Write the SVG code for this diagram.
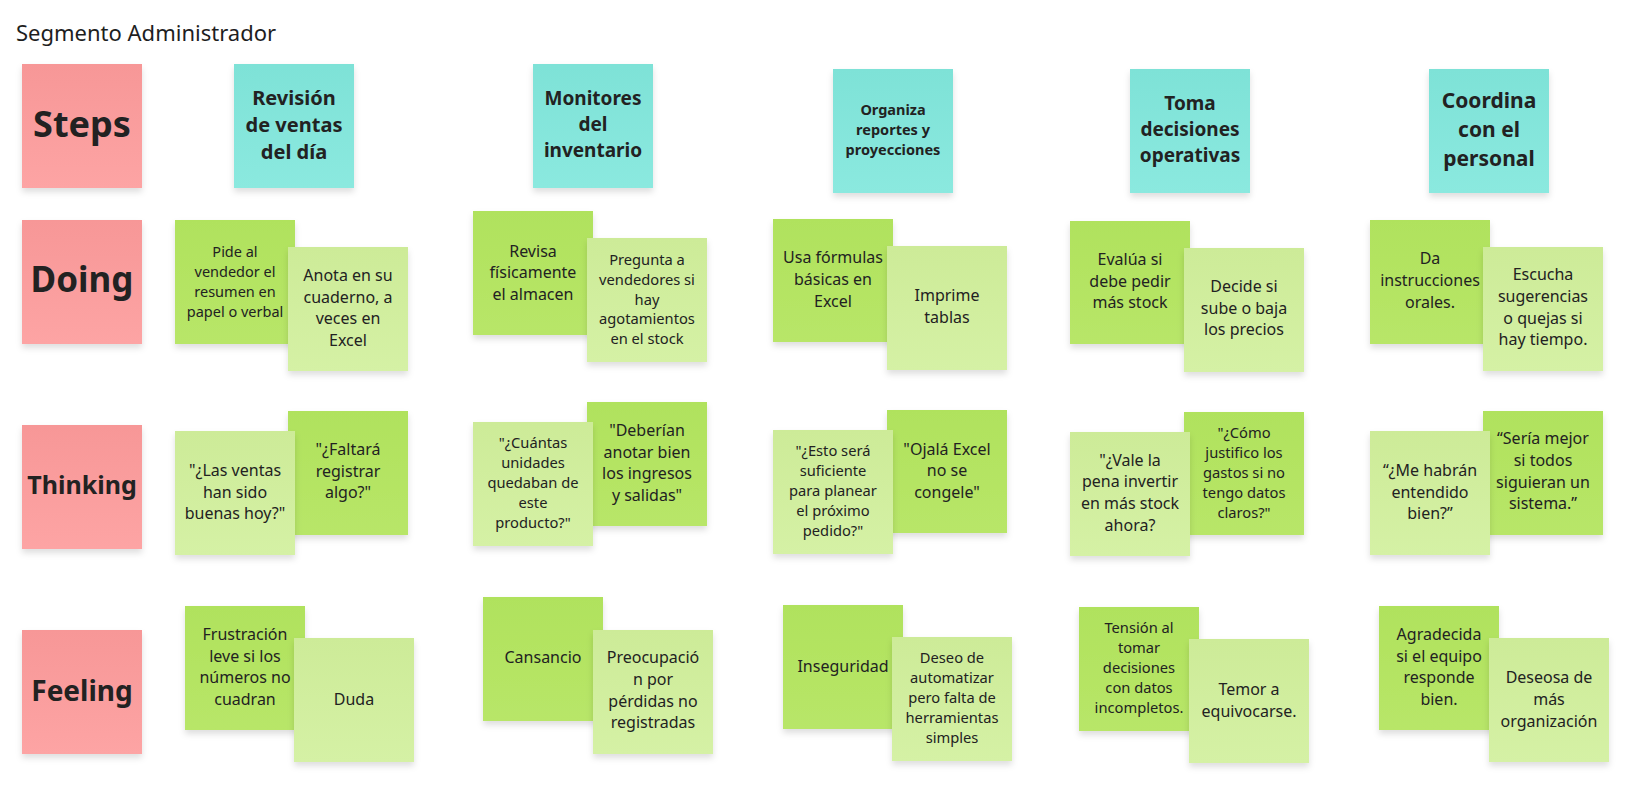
<svg xmlns="http://www.w3.org/2000/svg" width="1630" height="796" viewBox="0 0 1630 796">
<defs>
<linearGradient id="gPink" x1="0" y1="0" x2="0" y2="1"><stop offset="0" stop-color="#f79797"/><stop offset="1" stop-color="#fda4a4"/></linearGradient>
<linearGradient id="gTeal" x1="0" y1="0" x2="0" y2="1"><stop offset="0" stop-color="#7ee2d7"/><stop offset="1" stop-color="#8be9df"/></linearGradient>
<linearGradient id="gDark" x1="0" y1="0" x2="0" y2="1"><stop offset="0" stop-color="#b0e25d"/><stop offset="1" stop-color="#b8e668"/></linearGradient>
<linearGradient id="gLight" x1="0" y1="0" x2="0" y2="1"><stop offset="0" stop-color="#cdeb98"/><stop offset="1" stop-color="#d5f1a5"/></linearGradient>
<filter id="sh" x="-10%" y="-10%" width="120%" height="125%"><feDropShadow dx="0" dy="4" stdDeviation="3" flood-color="#000" flood-opacity="0.13"/></filter>
</defs>
<style>
rect{filter:url(#sh)}
.pink{fill:url(#gPink)}
.teal{fill:url(#gTeal)}
.dk{fill:url(#gDark)}
.lt{fill:url(#gLight)}
text{font-family:"Noto Sans","Open Sans","DejaVu Sans",sans-serif;fill:#222;text-anchor:middle}
.b{font-weight:bold}
.f16{font-size:16px}
.f147{font-size:14.7px}
.title{text-anchor:start;font-size:22px;fill:#1e1e1e}
</style>
<text class="title" x="16" y="41">Segmento Administrador</text>

<g id="row-steps"><rect class="pink" x="22" y="64" width="120" height="124"/><text class="b" x="82" y="137" font-size="36">Steps</text></g>
<g id="row-doing"><rect class="pink" x="22" y="220" width="120" height="124"/><text class="b" x="82" y="292" font-size="35">Doing</text></g>
<g id="row-thinking"><rect class="pink" x="22" y="425" width="120" height="124"/><text class="b" x="82" y="494" font-size="25">Thinking</text></g>
<g id="row-feeling"><rect class="pink" x="22" y="630" width="120" height="124"/><text class="b" x="82" y="701" font-size="28">Feeling</text></g>

<!-- Steps -->
<g id="step1"><rect class="teal" x="234" y="64" width="120" height="124"/>
<text class="b" font-size="20"><tspan x="294" y="105">Revisión</tspan><tspan x="294" y="132.3">de ventas</tspan><tspan x="294" y="159">del día</tspan></text></g>
<g id="step2"><rect class="teal" x="533" y="64" width="120" height="124"/>
<text class="b" font-size="19"><tspan x="593" y="105.3">Monitores</tspan><tspan x="593" y="131">del</tspan><tspan x="593" y="156.7">inventario</tspan></text></g>
<g id="step3"><rect class="teal" x="833" y="69" width="120" height="124"/>
<text class="b" font-size="14.5"><tspan x="893" y="115">Organiza</tspan><tspan x="893" y="135">reportes y</tspan><tspan x="893" y="155">proyecciones</tspan></text></g>
<g id="step4"><rect class="teal" x="1130" y="69" width="120" height="124"/>
<text class="b" font-size="19"><tspan x="1190" y="110">Toma</tspan><tspan x="1190" y="136">decisiones</tspan><tspan x="1190" y="162">operativas</tspan></text></g>
<g id="step5"><rect class="teal" x="1429" y="69" width="120" height="124"/>
<text class="b" font-size="21"><tspan x="1489" y="107.7">Coordina</tspan><tspan x="1489" y="136.7">con el</tspan><tspan x="1489" y="165.7">personal</tspan></text></g>

<!-- Doing -->
<g id="doing1a"><rect class="dk" x="175" y="220" width="120" height="124"/>
<text font-size="14.5"><tspan x="235" y="256.7">Pide al</tspan><tspan x="235" y="276.7">vendedor el</tspan><tspan x="235" y="296.7">resumen en</tspan><tspan x="235" y="316.7">papel o verbal</tspan></text></g>
<g id="doing1b"><rect class="lt" x="288" y="247" width="120" height="124"/>
<text class="f16"><tspan x="348" y="281">Anota en su</tspan><tspan x="348" y="302.7">cuaderno, a</tspan><tspan x="348" y="324.3">veces en</tspan><tspan x="348" y="346">Excel</tspan></text></g>
<g id="doing2a"><rect class="dk" x="473" y="211" width="120" height="124"/>
<text class="f16"><tspan x="533" y="256.5">Revisa</tspan><tspan x="533" y="278">físicamente</tspan><tspan x="533" y="299.5">el almacen</tspan></text></g>
<g id="doing2b"><rect class="lt" x="587" y="238" width="120" height="124"/>
<text class="f147"><tspan x="647" y="265">Pregunta a</tspan><tspan x="647" y="284.8">vendedores si</tspan><tspan x="647" y="304.6">hay</tspan><tspan x="647" y="324.4">agotamientos</tspan><tspan x="647" y="344.2">en el stock</tspan></text></g>
<g id="doing3a"><rect class="dk" x="773" y="219" width="120" height="123"/>
<text class="f16"><tspan x="833" y="263.3">Usa fórmulas</tspan><tspan x="833" y="285">básicas en</tspan><tspan x="833" y="306.7">Excel</tspan></text></g>
<g id="doing3b"><rect class="lt" x="887" y="246" width="120" height="124"/>
<text class="f16"><tspan x="947" y="301">Imprime</tspan><tspan x="947" y="322.7">tablas</tspan></text></g>
<g id="doing4a"><rect class="dk" x="1070" y="221" width="120" height="123"/>
<text class="f16"><tspan x="1130" y="265">Evalúa si</tspan><tspan x="1130" y="286.7">debe pedir</tspan><tspan x="1130" y="308.3">más stock</tspan></text></g>
<g id="doing4b"><rect class="lt" x="1184" y="248" width="120" height="124"/>
<text class="f16"><tspan x="1244" y="292">Decide si</tspan><tspan x="1244" y="313.7">sube o baja</tspan><tspan x="1244" y="335.3">los precios</tspan></text></g>
<g id="doing5a"><rect class="dk" x="1370" y="220" width="120" height="124"/>
<text class="f16"><tspan x="1430" y="264.3">Da</tspan><tspan x="1430" y="286">instrucciones</tspan><tspan x="1430" y="307.7">orales.</tspan></text></g>
<g id="doing5b"><rect class="lt" x="1483" y="247" width="120" height="124"/>
<text class="f16"><tspan x="1543" y="280.3">Escucha</tspan><tspan x="1543" y="302">sugerencias</tspan><tspan x="1543" y="323.7">o quejas si</tspan><tspan x="1543" y="345.3">hay tiempo.</tspan></text></g>

<!-- Thinking -->
<g id="think1b"><rect class="dk" x="288" y="411" width="120" height="124"/>
<text class="f16"><tspan x="348" y="455">"¿Faltará</tspan><tspan x="348" y="476.7">registrar</tspan><tspan x="348" y="498.3">algo?"</tspan></text></g>
<g id="think1a"><rect class="lt" x="175" y="431" width="120" height="124"/>
<text class="f16"><tspan x="235" y="476">"¿Las ventas</tspan><tspan x="235" y="497.7">han sido</tspan><tspan x="235" y="519.3">buenas hoy?"</tspan></text></g>
<g id="think2b"><rect class="dk" x="587" y="402" width="120" height="124"/>
<text class="f16"><tspan x="647" y="436">"Deberían</tspan><tspan x="647" y="457.7">anotar bien</tspan><tspan x="647" y="479.3">los ingresos</tspan><tspan x="647" y="501">y salidas"</tspan></text></g>
<g id="think2a"><rect class="lt" x="473" y="422" width="120" height="124"/>
<text class="f147"><tspan x="533" y="448.3">"¿Cuántas</tspan><tspan x="533" y="468.3">unidades</tspan><tspan x="533" y="488.3">quedaban de</tspan><tspan x="533" y="508.3">este</tspan><tspan x="533" y="528.3">producto?"</tspan></text></g>
<g id="think3b"><rect class="dk" x="887" y="410" width="120" height="123"/>
<text class="f16"><tspan x="947" y="454.5">"Ojalá Excel</tspan><tspan x="947" y="476">no se</tspan><tspan x="947" y="497.5">congele"</tspan></text></g>
<g id="think3a"><rect class="lt" x="773" y="430" width="120" height="124"/>
<text class="f147"><tspan x="833" y="456">"¿Esto será</tspan><tspan x="833" y="476">suficiente</tspan><tspan x="833" y="496">para planear</tspan><tspan x="833" y="516">el próximo</tspan><tspan x="833" y="536">pedido?"</tspan></text></g>
<g id="think4b"><rect class="dk" x="1184" y="412" width="120" height="123"/>
<text class="f147"><tspan x="1244" y="438.3">"¿Cómo</tspan><tspan x="1244" y="458.3">justifico los</tspan><tspan x="1244" y="478.3">gastos si no</tspan><tspan x="1244" y="498.3">tengo datos</tspan><tspan x="1244" y="518">claros?"</tspan></text></g>
<g id="think4a"><rect class="lt" x="1070" y="432" width="120" height="124"/>
<text class="f16"><tspan x="1130" y="465.7">"¿Vale la</tspan><tspan x="1130" y="487.3">pena invertir</tspan><tspan x="1130" y="509">en más stock</tspan><tspan x="1130" y="530.7">ahora?</tspan></text></g>
<g id="think5b"><rect class="dk" x="1483" y="411" width="120" height="124"/>
<text class="f16"><tspan x="1543" y="444.3">“Sería mejor</tspan><tspan x="1543" y="466">si todos</tspan><tspan x="1543" y="487.7">siguieran un</tspan><tspan x="1543" y="509.3">sistema.”</tspan></text></g>
<g id="think5a"><rect class="lt" x="1370" y="431" width="120" height="124"/>
<text class="f16"><tspan x="1430" y="476">“¿Me habrán</tspan><tspan x="1430" y="497.7">entendido</tspan><tspan x="1430" y="519.3">bien?”</tspan></text></g>

<!-- Feeling -->
<g id="feel1a"><rect class="dk" x="185" y="606" width="120" height="124"/>
<text class="f16"><tspan x="245" y="640">Frustración</tspan><tspan x="245" y="661.7">leve si los</tspan><tspan x="245" y="683.3">números no</tspan><tspan x="245" y="705">cuadran</tspan></text></g>
<g id="feel1b"><rect class="lt" x="294" y="638" width="120" height="124"/>
<text class="f16" x="354" y="705">Duda</text></g>
<g id="feel2a"><rect class="dk" x="483" y="597" width="120" height="124"/>
<text class="f16" x="543" y="663.3">Cansancio</text></g>
<g id="feel2b"><rect class="lt" x="593" y="630" width="120" height="124"/>
<text class="f16"><tspan x="653" y="663.3">Preocupació</tspan><tspan x="653" y="685">n por</tspan><tspan x="653" y="706.7">pérdidas no</tspan><tspan x="653" y="728.3">registradas</tspan></text></g>
<g id="feel3a"><rect class="dk" x="783" y="605" width="120" height="124"/>
<text class="f16" x="843" y="671.7">Inseguridad</text></g>
<g id="feel3b"><rect class="lt" x="892" y="637" width="120" height="124"/>
<text class="f147"><tspan x="952" y="663.3">Deseo de</tspan><tspan x="952" y="683.3">automatizar</tspan><tspan x="952" y="703.3">pero falta de</tspan><tspan x="952" y="723.3">herramientas</tspan><tspan x="952" y="743.3">simples</tspan></text></g>
<g id="feel4a"><rect class="dk" x="1079" y="607" width="120" height="124"/>
<text class="f147"><tspan x="1139" y="633.3">Tensión al</tspan><tspan x="1139" y="653.3">tomar</tspan><tspan x="1139" y="673.3">decisiones</tspan><tspan x="1139" y="693.3">con datos</tspan><tspan x="1139" y="713.3">incompletos.</tspan></text></g>
<g id="feel4b"><rect class="lt" x="1189" y="639" width="120" height="124"/>
<text class="f16"><tspan x="1249" y="695">Temor a</tspan><tspan x="1249" y="716.7">equivocarse.</tspan></text></g>
<g id="feel5a"><rect class="dk" x="1379" y="606" width="120" height="124"/>
<text class="f16"><tspan x="1439" y="640">Agradecida</tspan><tspan x="1439" y="661.7">si el equipo</tspan><tspan x="1439" y="683.3">responde</tspan><tspan x="1439" y="705">bien.</tspan></text></g>
<g id="feel5b"><rect class="lt" x="1489" y="638" width="120" height="124"/>
<text class="f16"><tspan x="1549" y="683.3">Deseosa de</tspan><tspan x="1549" y="705">más</tspan><tspan x="1549" y="726.7">organización</tspan></text></g>

<g id="connectors"></g>
</svg>
